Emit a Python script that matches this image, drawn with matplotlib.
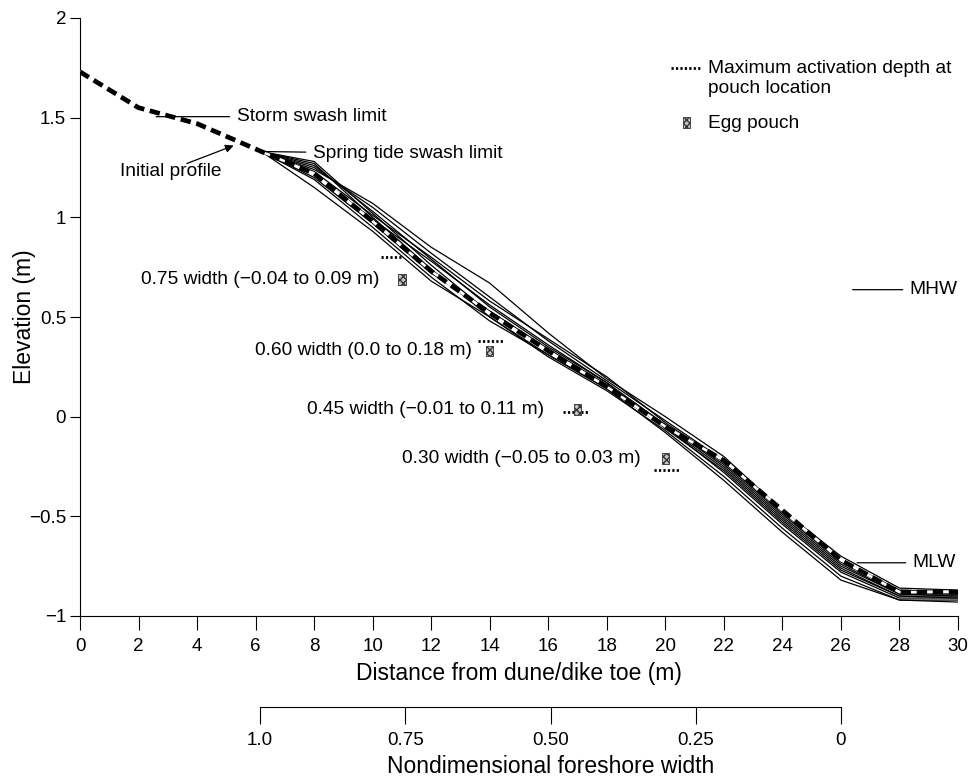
import matplotlib
matplotlib.use("Agg")
import matplotlib.pyplot as plt
from matplotlib.lines import Line2D

plt.rcParams['font.family'] = ['Liberation Sans', 'DejaVu Sans']

# initial profile (dashed), from dune toe to end of the survey line
init_x = [0, 2, 4, 6.2, 8, 10, 12, 14, 16, 18, 20, 22, 24, 26, 28, 30]
init_y = [1.73, 1.55, 1.47, 1.33, 1.22, 0.98, 0.73, 0.52, 0.33, 0.15,
          -0.05, -0.22, -0.47, -0.72, -0.88, -0.88]

# surveyed profiles (thin lines)
prof_x = [6.2, 8, 10, 12, 14, 16, 18, 20, 22, 24, 26, 28, 30]
prof_1 = [1.33, 1.28, 1.02, 0.76, 0.52, 0.33, 0.15, -0.04, -0.24, -0.50, -0.74, -0.89, -0.89]
prof_2 = [1.33, 1.27, 1.00, 0.74, 0.50, 0.31, 0.14, -0.05, -0.26, -0.52, -0.76, -0.90, -0.90]
prof_3 = [1.33, 1.25, 1.05, 0.82, 0.60, 0.38, 0.18, -0.02, -0.22, -0.48, -0.72, -0.87, -0.88]
prof_4 = [1.33, 1.24, 1.07, 0.85, 0.67, 0.42, 0.19, 0.00, -0.20, -0.47, -0.70, -0.86, -0.87]
prof_5 = [1.33, 1.15, 0.93, 0.68, 0.50, 0.30, 0.13, -0.07, -0.30, -0.56, -0.80, -0.92, -0.92]
prof_6 = [1.33, 1.20, 0.97, 0.72, 0.53, 0.34, 0.16, -0.05, -0.28, -0.54, -0.78, -0.91, -0.91]
prof_7 = [1.33, 1.22, 0.99, 0.78, 0.56, 0.36, 0.17, -0.04, -0.25, -0.51, -0.75, -0.89, -0.90]
prof_8 = [1.33, 1.19, 0.95, 0.70, 0.48, 0.31, 0.14, -0.08, -0.32, -0.58, -0.82, -0.92, -0.93]
prof_9 = [1.33, 1.23, 1.01, 0.80, 0.58, 0.39, 0.20, -0.03, -0.23, -0.49, -0.73, -0.88, -0.89]
prof_10 = [1.33, 1.26, 1.03, 0.79, 0.55, 0.35, 0.17, -0.06, -0.27, -0.53, -0.77, -0.90, -0.91]
profiles = [prof_1, prof_2, prof_3, prof_4, prof_5, prof_6, prof_7, prof_8, prof_9, prof_10]

# egg pouches and max activation depth
pouch_x = [11, 14, 17, 20]
pouch_y = [0.69, 0.33, 0.035, -0.21]
depth_x0 = [10.3, 13.6, 16.5, 19.6]
depth_x1 = [11.0, 14.45, 17.4, 20.5]
depth_y = [0.80, 0.38, 0.025, -0.27]
pouch_labels = ["0.75 width (\u22120.04 to 0.09 m)", "0.60 width (0.0 to 0.18 m)",
                "0.45 width (\u22120.01 to 0.11 m)", "0.30 width (\u22120.05 to 0.03 m)"]
label_x = [10.25, 13.4, 15.85, 19.15]

xticks = list(range(0, 31, 2))
yticks = [-1, -0.5, 0, 0.5, 1, 1.5, 2]
ytick_labels = ["\u22121", "\u22120.5", "0", "0.5", "1", "1.5", "2"]
width_ticks = [1.0, 0.75, 0.5, 0.25, 0]
width_labels = ["1.0", "0.75", "0.50", "0.25", "0"]

fig = plt.figure(figsize=(9.73, 7.77), dpi=100)
ax = fig.add_axes([80/973, 1-616/777, 878/973, 598/777])

for p in profiles:
    ax.plot(prof_x, p, color='black', lw=0.9, zorder=2)
ax.plot(init_x, init_y, color='white', lw=1.8, zorder=3)
ax.plot(init_x, init_y, color='black', lw=3.4, ls=(0, (2.2, 1.2)), zorder=4)

for x0, x1, y in zip(depth_x0, depth_x1, depth_y):
    ax.plot([x0, x1], [y, y], color='black', lw=2, ls=(0, (0.8, 0.8)), zorder=5)

pouch_marker = [(-0.35, -0.5), (0.35, -0.5), (0.35, 0.5), (-0.35, 0.5), (-0.35, -0.5)]
pouches = ax.scatter(pouch_x, pouch_y, marker=pouch_marker, s=60, facecolor='#c8c8c8',
                     edgecolor='#333333', linewidth=0.6, hatch='xxxxx', zorder=6)

fs = 13.8
for lx, py, lab in zip(label_x, pouch_y, pouch_labels):
    ax.text(lx, py, lab, ha='right', va='center', fontsize=fs)

line_kw = dict(arrowstyle='-', lw=0.9, color='black', shrinkA=3, shrinkB=0)
ax.annotate("Storm swash limit", xy=(2.6, 1.505), xytext=(5.35, 1.505),
            ha='left', va='center', fontsize=fs, arrowprops=line_kw)
ax.annotate("Spring tide swash limit", xy=(6.3, 1.33), xytext=(7.95, 1.32),
            ha='left', va='center', fontsize=fs, arrowprops=line_kw)
ax.annotate("MHW", xy=(26.4, 0.637), xytext=(28.35, 0.637),
            ha='left', va='center', fontsize=fs, arrowprops=line_kw)
ax.annotate("MLW", xy=(26.55, -0.733), xytext=(28.45, -0.733),
            ha='left', va='center', fontsize=fs, arrowprops=line_kw)
ax.text(3.1, 1.23, "Initial profile", ha='center', va='center', fontsize=fs)
ax.annotate("", xy=(5.25, 1.36), xytext=(3.65, 1.27),
            arrowprops=dict(arrowstyle='-|>', lw=0.9, color='black',
                            mutation_scale=12, shrinkA=0, shrinkB=0))

depth_handle = Line2D([], [], color='black', lw=2, ls=(0, (0.8, 0.8)))
leg = ax.legend([depth_handle, pouches], ["Maximum activation depth at\npouch location", "Egg pouch"],
                loc='upper left', bbox_to_anchor=(654/973, 1-43/777),
                bbox_transform=fig.transFigure, frameon=False, fontsize=fs,
                handlelength=1.6, handletextpad=0.3, labelspacing=0.9, scatterpoints=1)
# put the dotted sample level with the first text line
h = leg.legend_handles[0]
h.set_ydata([v + 7.2 for v in h.get_ydata()])

ax.set_xlim(0, 30)
ax.set_ylim(-1, 2)
ax.set_xticks(xticks)
ax.set_yticks(yticks)
ax.set_yticklabels(ytick_labels)
ax.tick_params(axis='x', direction='out', length=10, width=0.8, labelsize=13.5, pad=6)
ax.tick_params(axis='y', direction='out', length=7, width=0.8, labelsize=13.5, pad=3)
for s in ['top', 'right']:
    ax.spines[s].set_visible(False)
for s in ['left', 'bottom']:
    ax.spines[s].set_linewidth(0.8)
ax.set_xlabel("Distance from dune/dike toe (m)", fontsize=16.5, labelpad=5)
ax.set_ylabel("Elevation (m)", fontsize=16.5)
ax.yaxis.set_label_coords(-0.05, 0.5)

# nondimensional foreshore width scale below
ax2 = fig.add_axes([260/973, 1-707/777, 581/973, 0.001])
ax2.set_xlim(1.0, 0.0)
ax2.set_yticks([])
ax2.set_xticks(width_ticks)
ax2.set_xticklabels(width_labels)
for s in ['top', 'right', 'left']:
    ax2.spines[s].set_visible(False)
ax2.spines['bottom'].set_linewidth(0.8)
ax2.tick_params(axis='x', direction='out', length=12, width=0.8, labelsize=13.5, pad=6)
ax2.set_xlabel("Nondimensional foreshore width", fontsize=16.5, labelpad=4)
ax2.patch.set_visible(False)

fig.savefig("out.png", dpi=100)
